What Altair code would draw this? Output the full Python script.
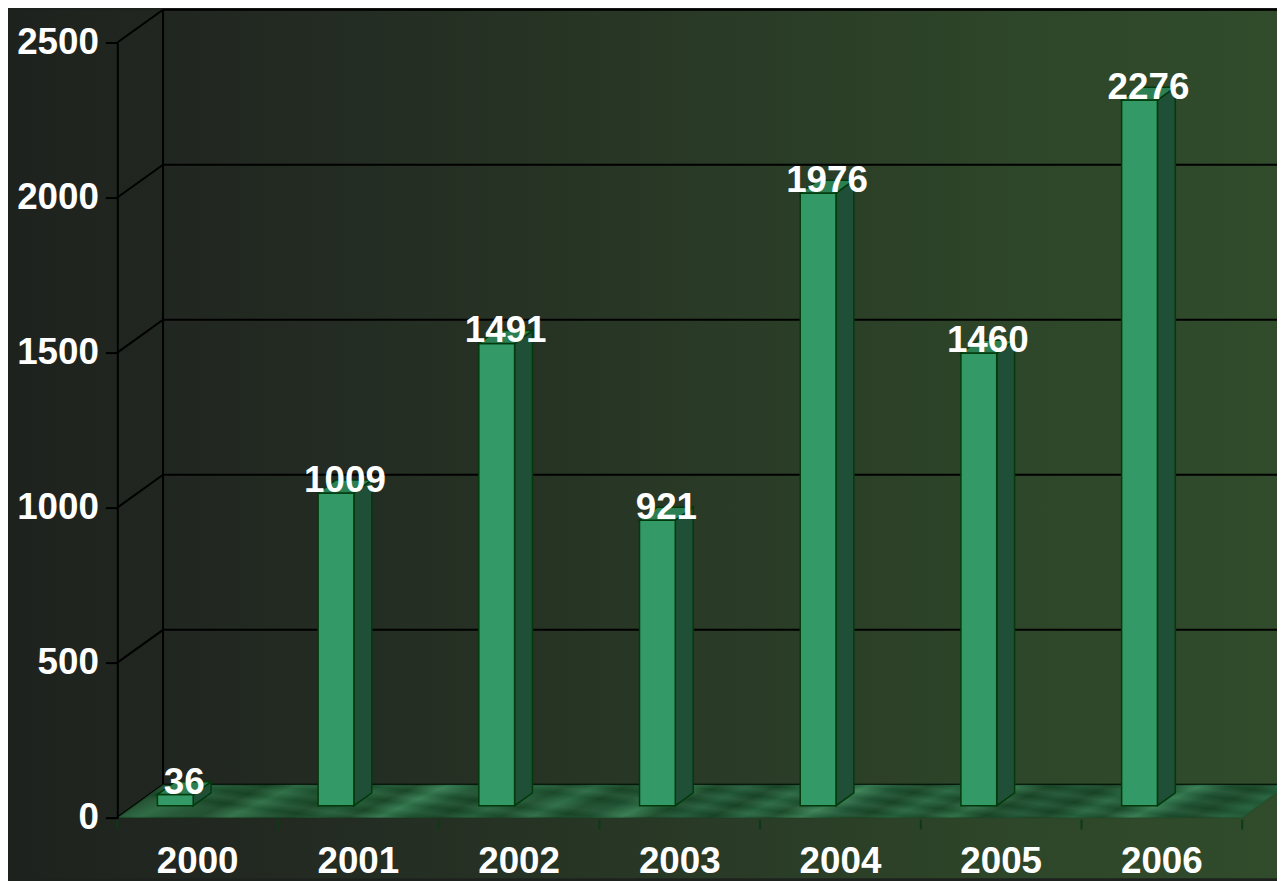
import altair as alt
import pandas as pd

# ---------------- data ----------------
years = ["2000", "2001", "2002", "2003", "2004", "2005", "2006"]
values = [36, 1009, 1491, 921, 1976, 1460, 2276]
y_ticks = [0, 500, 1000, 1500, 2000, 2500]

# ---------------- layout / style constants ----------------
W, H = 1132, 780
PAD = {"left": 110, "top": 32, "right": 35, "bottom": 61}
Y_MAX = 2500
N = len(years)
PX_X = W / N          # pixels per category unit
PX_Y = H / Y_MAX      # pixels per value unit

WALL_DX, WALL_DY = 46, 33     # depth of the 3D box (px)
BAR_DX, BAR_DY = 18, 13       # depth of each bar (px)
BAR_LIFT = 12                 # bars stand this far back on the floor (px)
BAR_SHIFT = -40.5             # bar front-left from category centre (px)
BAR_W = 36                    # bar front width (px)

FONT = "Liberation Sans"
FS = 37
FRONT = "#339966"
SIDE = "#1f4f36"
TOP = "#2b7f53"
EDGE = "#023a0c"


def ux(px):
    return px / PX_X


def uy(px):
    return px / PX_Y


X_SCALE = alt.Scale(domain=[0, N], nice=False, zero=False)
Y_SCALE = alt.Scale(domain=[0, Y_MAX], nice=False, zero=True)
Y_AXIS = alt.Axis(
    values=y_ticks, format="d", grid=False, domainColor="black", domainWidth=2,
    tickColor="black", tickWidth=2, tickSize=12, labelPadding=7,
    labelColor="white", labelFont=FONT, labelFontSize=FS, labelFontWeight="bold",
    title=None, zindex=1,
)


def X(field):
    return alt.X(field, type="quantitative", scale=X_SCALE, axis=None)


def Y(field):
    return alt.Y(field, type="quantitative", scale=Y_SCALE, axis=Y_AXIS, stack=None, title=None)


def XD(v):
    return alt.XDatum(datum=v, type="quantitative", scale=X_SCALE, axis=None)


def YD(v):
    return alt.YDatum(datum=v, type="quantitative", scale=Y_SCALE, axis=Y_AXIS, title=None)


# ---------------- derived tables ----------------
ticks_df = pd.DataFrame({"v": y_ticks})

bars = pd.DataFrame({"year": years, "value": values, "i": list(range(N))})
bars["xl"] = bars["i"] + 0.5 + ux(BAR_SHIFT)
bars["xr"] = bars["xl"] + ux(BAR_W)
bars["xc"] = (bars["xl"] + bars["xr"] + ux(BAR_DX)) / 2
bars["label"] = bars["value"].astype(str)

side_rows, top_rows = [], []
for yr, v, xl, xr in zip(bars["year"], bars["value"], bars["xl"], bars["xr"]):
    side_rows.append({"year": yr, "x": xr, "top": v, "bot": 0})
    side_rows.append({"year": yr, "x": xr + ux(BAR_DX), "top": v + uy(BAR_DY), "bot": uy(BAR_DY)})
    top_rows.append({"year": yr, "x": xl, "top": v, "bot": v})
    top_rows.append({"year": yr, "x": xl + ux(BAR_DX), "top": v + uy(BAR_DY), "bot": v})
    top_rows.append({"year": yr, "x": xr, "top": v + uy(BAR_DY), "bot": v})
    top_rows.append({"year": yr, "x": xr + ux(BAR_DX), "top": v + uy(BAR_DY), "bot": v + uy(BAR_DY)})
side_df = pd.DataFrame(side_rows)
top_df = pd.DataFrame(top_rows)

floor_df = pd.DataFrame({
    "x": [0, ux(WALL_DX), N, N + ux(WALL_DX)],
    "top": [0, uy(WALL_DY), uy(WALL_DY), uy(WALL_DY)],
    "bot": [0, 0, 0, uy(WALL_DY)],
})

cats_df = pd.DataFrame({"year": years, "xc": [i + 0.5 for i in range(N)]})
bounds_df = pd.DataFrame({"b": list(range(N + 1))})

# ---------------- layers ----------------
bg_grad = alt.Gradient(
    gradient="linear", x1=0, y1=0, x2=1, y2=0,
    stops=[
        alt.GradientStop(color="#1e221e", offset=0),
        alt.GradientStop(color="#232b22", offset=0.25),
        alt.GradientStop(color="#293a26", offset=0.55),
        alt.GradientStop(color="#2e4629", offset=0.8),
        alt.GradientStop(color="#304c2b", offset=1),
    ],
)
background = alt.Chart(alt.Data(values=[{"a": 1}])).mark_rect(color=bg_grad).encode(
    x=alt.value(-PAD["left"]), x2=alt.value(W + PAD["right"]),
    y=alt.value(-PAD["top"]), y2=alt.value(H + PAD["bottom"]),
)

# back-wall gridlines
grid = alt.Chart(ticks_df).mark_rule(
    color="black", strokeWidth=2, xOffset=WALL_DX, x2Offset=WALL_DX, yOffset=-WALL_DY
).encode(x=XD(0), x2=alt.X2Datum(datum=N + 1), y=Y("v"))

# left-wall diagonals
diag = alt.Chart(ticks_df).mark_rule(
    color="black", strokeWidth=2, x2Offset=WALL_DX, y2Offset=-WALL_DY
).encode(x=XD(0), x2=alt.X2Datum(datum=0), y=Y("v"), y2="v:Q")

# back-wall vertical edge
back_edge = alt.Chart(alt.Data(values=[{"a": 1}])).mark_rule(
    color="black", strokeWidth=2, xOffset=WALL_DX, yOffset=-WALL_DY, y2Offset=-WALL_DY
).encode(x=XD(0), y=YD(0), y2=alt.Y2Datum(datum=Y_MAX))

# floor (marble-ish: two crossing gradients)
marble = ["#1c4b2a", "#215638", "#1b4828", "#27623d", "#1d4e2d", "#194426", "#2d6c44",
          "#1e5130", "#1a4627", "#235b37", "#1b4929", "#347950", "#1f5332", "#194426",
          "#25603b", "#1c4b2b", "#2a6842", "#1a4728", "#1e5030", "#33774d", "#1b4828",
          "#22593a", "#194426", "#286540", "#1d4d2d", "#3a7f54", "#205535", "#1a4627",
          "#26623d", "#1b4a2a", "#2c6b44", "#1a4627", "#1f5232", "#194426", "#27643f",
          "#1c4b2b", "#347a50", "#1e5030", "#1a4627", "#235c38"]
floor_grad = alt.Gradient(
    gradient="linear", x1=0, y1=0, x2=1, y2=0.06,
    stops=[alt.GradientStop(color=c, offset=k / (len(marble) - 1)) for k, c in enumerate(marble)],
)
speckle = ["#a8e0bc", "#0a2a14", "#a8e0bc", "#0a2a14", "#7fc099", "#0a2a14", "#a8e0bc",
           "#0a2a14", "#a8e0bc", "#6fb08a", "#0a2a14", "#a8e0bc", "#0a2a14", "#a8e0bc",
           "#0a2a14", "#b0e8c4", "#0a2a14", "#a8e0bc", "#0a2a14", "#a8e0bc", "#0a2a14",
           "#a8e0bc", "#0a2a14", "#80c09a", "#0a2a14", "#a8e0bc", "#0a2a14", "#a8e0bc"]
floor_grad2 = alt.Gradient(
    gradient="linear", x1=0, y1=0.3, x2=1, y2=0.1,
    stops=[alt.GradientStop(color=c, offset=k / (len(speckle) - 1)) for k, c in enumerate(speckle)],
)
floor = alt.Chart(floor_df).mark_area(
    color=floor_grad, interpolate="linear"
).encode(x=X("x"), y=Y("top"), y2="bot:Q")
floor_tex = alt.Chart(floor_df).mark_area(
    color=floor_grad2, opacity=0.08, stroke="#0c3a14", strokeOpacity=1, strokeWidth=2,
    interpolate="linear"
).encode(x=X("x"), y=Y("top"), y2="bot:Q")

# bars
side = alt.Chart(side_df).mark_area(
    color=SIDE, stroke=EDGE, strokeWidth=1.5, yOffset=-BAR_LIFT, y2Offset=-BAR_LIFT
).encode(x=X("x"), y=Y("top"), y2="bot:Q", detail="year:N")

front = alt.Chart(bars).mark_rect(
    color=FRONT, stroke=EDGE, strokeWidth=1.5, yOffset=-BAR_LIFT, y2Offset=-BAR_LIFT
).encode(x=X("xl"), x2="xr:Q", y=Y("value"), y2=alt.Y2Datum(datum=0))

topf = alt.Chart(top_df).mark_area(
    color=TOP, stroke=EDGE, strokeWidth=1.5, yOffset=-BAR_LIFT, y2Offset=-BAR_LIFT
).encode(x=X("x"), y=Y("top"), y2="bot:Q", detail="year:N")

# value labels
vlabels = alt.Chart(bars).mark_text(
    font=FONT, fontSize=FS, fontWeight="bold", color="white",
    baseline="alphabetic", align="center", dy=-BAR_LIFT - 1
).encode(x=X("xc"), y=Y("value"), text="label:N")

# x ticks & labels
xticks = alt.Chart(bounds_df).mark_rule(
    color="#0c3a14", strokeWidth=2, yOffset=2, y2Offset=12
).encode(x=X("b"), y=YD(0), y2=alt.Y2Datum(datum=0))

xlabels = alt.Chart(cats_df).mark_text(
    font=FONT, fontSize=FS, fontWeight="bold", color="white",
    baseline="alphabetic", align="center", dy=56
).encode(x=X("xc"), y=YD(0), text="year:N")

chart = alt.layer(
    background, grid, diag, back_edge, floor, floor_tex, side, front, topf,
    vlabels, xticks, xlabels,
).properties(
    width=W, height=H, padding=PAD,
    autosize=alt.AutoSizeParams(type="none"),
    background="#1e221e",
).configure_view(stroke=None)

chart.save("out.html", embed_options={"renderer": "svg", "actions": False})
